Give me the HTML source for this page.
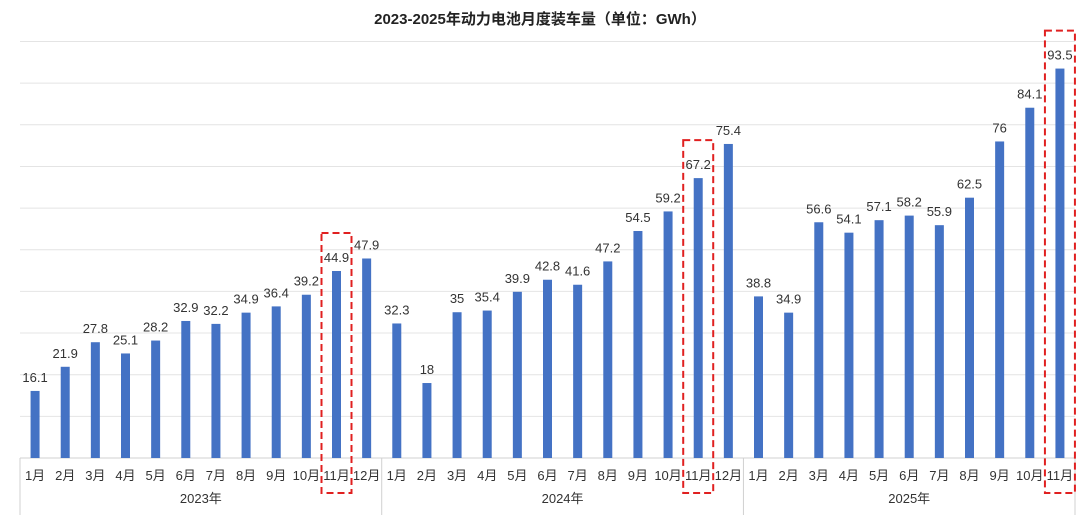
<!DOCTYPE html>
<html><head><meta charset="utf-8"><style>
body{margin:0;background:#fff;}
svg{display:block;font-family:"Liberation Sans","Noto Sans CJK SC",sans-serif;}
</style></head><body>
<svg id="c" width="1080" height="515">
<text x="540" y="24" text-anchor="middle" font-size="15" font-weight="bold" fill="#222">2023-2025年动力电池月度装车量（单位：GWh）</text>
<g id="grid"></g><g id="bars"></g><g id="labels"></g><g id="axis"></g><g id="boxes"></g>
</svg>
<script>
const years = ["2023年","2024年","2025年"];
const months = ["1月","2月","3月","4月","5月","6月","7月","8月","9月","10月","11月","12月"];
const values2023 = [16.1,21.9,27.8,25.1,28.2,32.9,32.2,34.9,36.4,39.2,44.9,47.9];
const values2024 = [32.3,18,35,35.4,39.9,42.8,41.6,47.2,54.5,59.2,67.2,75.4];
const values2025 = [38.8,34.9,56.6,54.1,57.1,58.2,55.9,62.5,76,84.1,93.5];
const highlightIdx = [10,22,34];
const yTicks = [0,10,20,30,40,50,60,70,80,90,100];
const NS="http://www.w3.org/2000/svg";
const series=[values2023,values2024,values2025];
const all=[].concat(values2023,values2024,values2025);
const cats=[];series.forEach((s,yi)=>s.forEach((v,i)=>cats.push(months[i])));
const x0=20,x1=1075,yb=458,yt=41.5,ymax=100;
const n=all.length, cw=(x1-x0)/n;
const X=i=>x0+cw*(i+0.5), Y=v=>yb-(v/ymax)*(yb-yt);
function mk(t,a,p){const e=document.createElementNS(NS,t);for(const k in a)e.setAttribute(k,a[k]);p.appendChild(e);return e;}
const g=document.getElementById('grid'),b=document.getElementById('bars'),l=document.getElementById('labels'),ax=document.getElementById('axis'),bx=document.getElementById('boxes');
yTicks.forEach(t=>{const e=mk('line',{x1:x0,x2:x1,y1:Y(t),y2:Y(t),stroke:t===0?'#d0d0d0':'#e4e4e4','stroke-width':1},g);

});
all.forEach((v,i)=>{
const r=mk('rect',{x:X(i)-4.5,y:Y(v),width:9,height:yb-Y(v),fill:'#4472c4'},b);


const t=mk('text',{x:X(i),y:Y(v)-9,'text-anchor':'middle','font-size':13,fill:'#333'},l);t.textContent=v;


const c=mk('text',{x:X(i),y:480,'text-anchor':'middle','font-size':13,fill:'#333'},l);c.textContent=cats[i];


});
let start=0;
series.forEach((s,yi)=>{
const xa=x0+cw*start, xb=x0+cw*(start+s.length);
const ln=mk('line',{x1:xa,x2:xa,y1:yb,y2:515,stroke:'#d0d0d0'},ax);


const t=mk('text',{x:(xa+xb)/2,y:503,'text-anchor':'middle','font-size':13,fill:'#333'},ax);t.textContent=years[yi];


start+=s.length;});
const le=mk('line',{x1:x1,x2:x1,y1:yb,y2:515,stroke:'#d0d0d0'},ax);


highlightIdx.forEach(i=>{
const top=Y(all[i])-38;
const r=mk('rect',{x:X(i)-15,y:top,width:30,height:493-top,fill:'none',stroke:'#e02020','stroke-width':2,'stroke-dasharray':'7,4'},bx);

});
</script>
</body></html>
